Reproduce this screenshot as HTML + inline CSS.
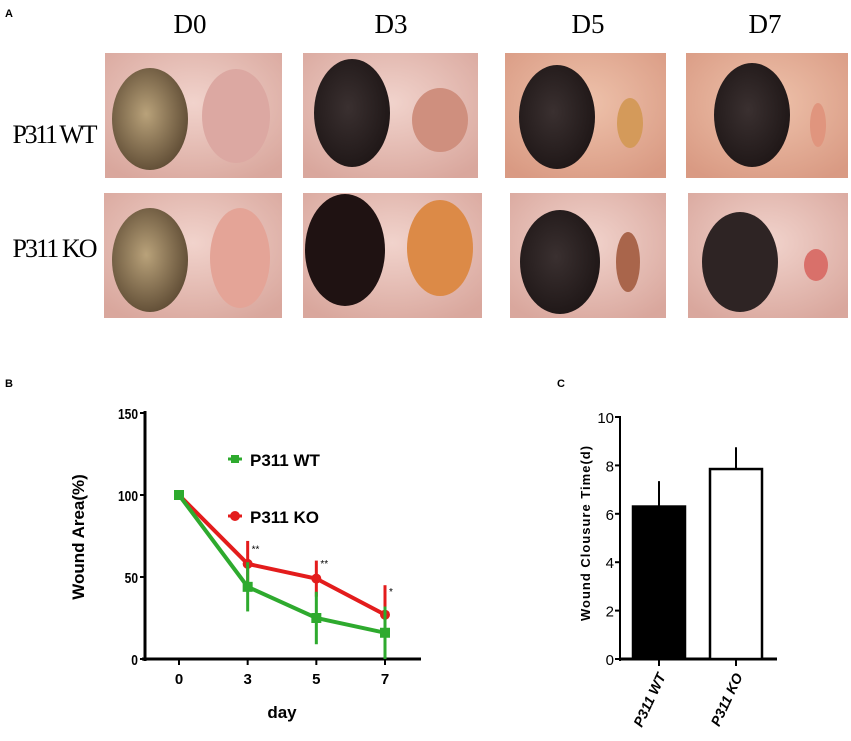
<!DOCTYPE html>
<html><head><meta charset="utf-8"><style>
body{margin:0;background:#fff;width:851px;height:741px;overflow:hidden;font-family:"Liberation Sans",sans-serif}
svg{position:absolute;left:0;top:0}
</style></head><body>
<svg width="851" height="741" viewBox="0 0 851 741">
<defs>
<radialGradient id="skin" cx="50%" cy="40%" r="70%"><stop offset="0" stop-color="#f1d3cc"/><stop offset="1" stop-color="#d9a79d"/></radialGradient>
<radialGradient id="skin2" cx="50%" cy="40%" r="70%"><stop offset="0" stop-color="#eec2ab"/><stop offset="1" stop-color="#d99a83"/></radialGradient>
<radialGradient id="gold" cx="45%" cy="45%" r="60%"><stop offset="0" stop-color="#b9a27a"/><stop offset="1" stop-color="#5d4a33"/></radialGradient>
<radialGradient id="dark" cx="45%" cy="45%" r="60%"><stop offset="0" stop-color="#3a3030"/><stop offset="1" stop-color="#1e1616"/></radialGradient>
</defs>
<g font-family="Liberation Serif, serif">
<text x="5" y="17" font-family="Liberation Sans" font-weight="bold" font-size="11">A</text>
<text x="190" y="33" font-size="27" text-anchor="middle">D0</text>
<text x="391" y="33" font-size="27" text-anchor="middle">D3</text>
<text x="588" y="33" font-size="27" text-anchor="middle">D5</text>
<text x="765" y="33" font-size="27" text-anchor="middle">D7</text>
<text x="55" y="143" font-size="26" text-anchor="middle" textLength="85">P311 WT</text>
<text x="55" y="257" font-size="26" text-anchor="middle" textLength="85">P311 KO</text>
<g><rect x="105" y="53" width="177" height="125" fill="url(#skin)"/><ellipse cx="150" cy="119" rx="38" ry="51" fill="url(#gold)"/><ellipse cx="236" cy="116" rx="34" ry="47" fill="#dca8a2"/></g>
<g><rect x="303" y="53" width="175" height="125" fill="url(#skin)"/><ellipse cx="352" cy="113" rx="38" ry="54" fill="url(#dark)"/><ellipse cx="440" cy="120" rx="28" ry="32" fill="#cf8f7e"/></g>
<g><rect x="505" y="53" width="161" height="125" fill="url(#skin2)"/><ellipse cx="557" cy="117" rx="38" ry="52" fill="url(#dark)"/><ellipse cx="630" cy="123" rx="13" ry="25" fill="#d49a5a"/></g>
<g><rect x="686" y="53" width="162" height="125" fill="url(#skin2)"/><ellipse cx="752" cy="115" rx="38" ry="52" fill="url(#dark)"/><ellipse cx="818" cy="125" rx="8" ry="22" fill="#e0957e"/></g>
<g><rect x="104" y="193" width="178" height="125" fill="url(#skin)"/><ellipse cx="150" cy="260" rx="38" ry="52" fill="url(#gold)"/><ellipse cx="240" cy="258" rx="30" ry="50" fill="#e4a497"/></g>
<g><rect x="303" y="193" width="179" height="125" fill="url(#skin)"/><ellipse cx="345" cy="250" rx="40" ry="56" fill="#1f1212"/><ellipse cx="440" cy="248" rx="33" ry="48" fill="#dc8a47"/></g>
<g><rect x="510" y="193" width="156" height="125" fill="url(#skin)"/><ellipse cx="560" cy="262" rx="40" ry="52" fill="url(#dark)"/><ellipse cx="628" cy="262" rx="12" ry="30" fill="#a9654b"/></g>
<g><rect x="688" y="193" width="160" height="125" fill="url(#skin)"/><ellipse cx="740" cy="262" rx="38" ry="50" fill="#2e2424"/><ellipse cx="816" cy="265" rx="12" ry="16" fill="#d9706a"/></g>
</g>
<g id="chartB"></g>
<g id="chartC"></g>
</svg>
<script>
const NS="http://www.w3.org/2000/svg";
const days=["0","3","5","7"];
const wtMean=[100,44,25,16];
const wtErr=[0,15,16,16];
const koMean=[100,58,49,27];
const koErr=[0,14,11,18];
const yTicksB=[0,50,100,150];
const barCats=["P311 WT","P311 KO"];
const barVals=[6.3,7.85];
const barErr=[1.05,0.9];
const yTicksC=[0,2,4,6,8,10];
function mk(parent,tag,attrs,text){const e=document.createElementNS(NS,tag);for(const k in attrs)e.setAttribute(k,attrs[k]);if(text!==undefined)e.textContent=text;parent.appendChild(e);return e;}
const B=document.getElementById('chartB');
const bx=i=>179+i*(385-179)/3;
const by=v=>659-v*(659-413)/150;
mk(B,'text',{x:5,y:387,'font-weight':'bold','font-size':11},'B');
let ax=mk(B,'line',{x1:145,y1:411,x2:145,y2:661,stroke:'#000','stroke-width':3});

ax=mk(B,'line',{x1:142,y1:659,x2:421,y2:659,stroke:'#000','stroke-width':3});

yTicksB.forEach(t=>{mk(B,'line',{x1:140,y1:by(t),x2:145,y2:by(t),stroke:'#000','stroke-width':2});
const l=mk(B,'text',{x:138,y:by(t)+6,'text-anchor':'end','font-size':15,'font-weight':'bold',transform:`translate(${138*0.2},0) scale(0.8,1)`},t);
});
days.forEach((t,i)=>{mk(B,'line',{x1:bx(i),y1:659,x2:bx(i),y2:665,stroke:'#000','stroke-width':2});
const l=mk(B,'text',{x:bx(i),y:684,'text-anchor':'middle','font-size':15,'font-weight':'bold'},t);
});
let tt=mk(B,'text',{x:282,y:718,'text-anchor':'middle','font-size':17,'font-weight':'bold'},'day');

tt=mk(B,'text',{x:0,y:0,transform:'translate(84,537) rotate(-90)','text-anchor':'middle','font-size':17,'font-weight':'bold'},'Wound Area(%)');

function series(mean,err,col,name,sq){
 const g=mk(B,'g',{});
 mk(g,'polyline',{points:days.map((d,i)=>bx(i)+','+by(mean[i])).join(' '),fill:'none',stroke:col,'stroke-width':4});
 days.forEach((d,i)=>{
  const e=mk(g,'line',{x1:bx(i),y1:by(mean[i]+err[i]),x2:bx(i),y2:by(Math.max(0,mean[i]-err[i])),stroke:col,'stroke-width':3});
  
  const m=sq?mk(g,'rect',{x:bx(i)-5,y:by(mean[i])-5,width:10,height:10,fill:col}):mk(g,'circle',{cx:bx(i),cy:by(mean[i]),r:5,fill:col});
  });
}
series(koMean,koErr,'#e31c1c','series-ko',false);
series(wtMean,wtErr,'#2eaa2e','series-wt',true);
[['**',1,koMean[1]+koErr[1]-7],['**',2,koMean[2]+koErr[2]-4],['*',3,koMean[3]+koErr[3]-6]].forEach(a=>{
 const s=mk(B,'text',{x:bx(a[1])+4,y:by(a[2]),'font-size':10},a[0]);});
let lg=mk(B,'g',{});
mk(lg,'line',{x1:228,y1:459,x2:242,y2:459,stroke:'#2eaa2e','stroke-width':3});
mk(lg,'rect',{x:231,y:455,width:8,height:8,fill:'#2eaa2e'});
mk(lg,'text',{x:250,y:466,'font-size':17,'font-weight':'bold'},'P311 WT');
mk(lg,'line',{x1:228,y1:516,x2:242,y2:516,stroke:'#e31c1c','stroke-width':3});
mk(lg,'circle',{cx:235,cy:516,r:5,fill:'#e31c1c'});
mk(lg,'text',{x:250,y:523,'font-size':17,'font-weight':'bold'},'P311 KO');
const C=document.getElementById('chartC');
const cy=v=>659-v*(659-417)/10;
const cx=i=>659+i*77;
mk(C,'text',{x:557,y:387,'font-weight':'bold','font-size':11},'C');
ax=mk(C,'line',{x1:620,y1:416,x2:620,y2:661,stroke:'#000','stroke-width':2});

ax=mk(C,'line',{x1:619,y1:659,x2:777,y2:659,stroke:'#000','stroke-width':3});

yTicksC.forEach(t=>{mk(C,'line',{x1:615,y1:cy(t),x2:620,y2:cy(t),stroke:'#000','stroke-width':2});
const l=mk(C,'text',{x:614,y:cy(t)+6,'text-anchor':'end','font-size':15},t);
});
barCats.forEach((c,i)=>{
 const x=cx(i);
 const e=mk(C,'line',{x1:x,y1:cy(barVals[i]+barErr[i]),x2:x,y2:cy(barVals[i]),stroke:'#000','stroke-width':2});
 
 const r=mk(C,'rect',{x:x-26,y:cy(barVals[i]),width:52,height:659-cy(barVals[i]),fill:i==0?'#000':'#fff',stroke:'#000','stroke-width':2.5});
 
 mk(C,'line',{x1:x,y1:659,x2:x,y2:666,stroke:'#000','stroke-width':2});
 const l=mk(C,'text',{x:0,y:0,transform:`translate(${x+7},676) rotate(-65)`,'text-anchor':'end','font-size':14,'font-style':'italic','font-weight':'bold'},c);
 
});
let st=mk(C,'text',{x:669,y:531,'font-size':14},'*');
tt=mk(C,'text',{x:0,y:0,transform:'translate(590,533) rotate(-90)','text-anchor':'middle','font-size':13,'font-weight':'bold','letter-spacing':'1'},'Wound Clousure Time(d)');

</script>
</body></html>
